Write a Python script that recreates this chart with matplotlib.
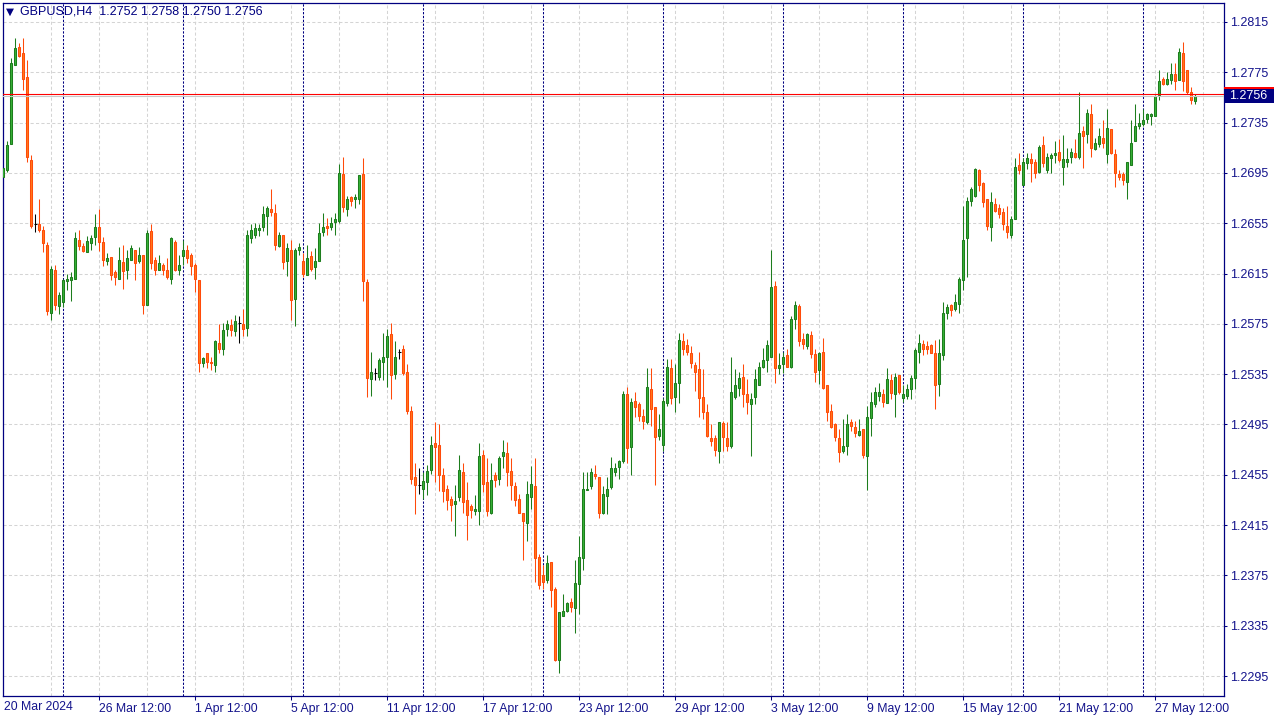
import numpy as np
import matplotlib
matplotlib.use("Agg")
import matplotlib.pyplot as plt
from matplotlib.patches import Rectangle

# GBPUSD H4, bar 0 = 20 Mar 2024 12:00
opens = [
    1.2692, 1.2697, 1.2718, 1.2781, 1.2795, 1.2790, 1.2771, 1.2705, 1.2654, 1.2654,
    1.2650, 1.2638, 1.2584, 1.2618, 1.2589, 1.2592, 1.2609, 1.2610, 1.2611, 1.2642,
    1.2637, 1.2632, 1.2639, 1.2644, 1.2652, 1.2640, 1.2625, 1.2628, 1.2616, 1.2611,
    1.2624, 1.2618, 1.2626, 1.2634, 1.2625, 1.2630, 1.2590, 1.2649, 1.2626, 1.2618,
    1.2622, 1.2618, 1.2611, 1.2640, 1.2618, 1.2629, 1.2634, 1.2630, 1.2622, 1.2610,
    1.2544, 1.2552, 1.2545, 1.2542, 1.2560, 1.2555, 1.2571, 1.2574, 1.2569, 1.2576,
    1.2575, 1.2572, 1.2643, 1.2646, 1.2650, 1.2652, 1.2661, 1.2666, 1.2663, 1.2637,
    1.2646, 1.2625, 1.2634, 1.2595, 1.2634, 1.2625, 1.2614, 1.2629, 1.2620, 1.2625,
    1.2648, 1.2653, 1.2652, 1.2656, 1.2657, 1.2694, 1.2666, 1.2676, 1.2674, 1.2674,
    1.2694, 1.2608, 1.2531, 1.2536, 1.2533, 1.2545, 1.2549, 1.2567, 1.2535, 1.2553,
    1.2555, 1.2537, 1.2506, 1.2453, 1.2447, 1.2444, 1.2449, 1.2459, 1.2480, 1.2479,
    1.2455, 1.2444, 1.2436, 1.2432, 1.2437, 1.2457, 1.2435, 1.2430, 1.2426, 1.2426,
    1.2471, 1.2449, 1.2425, 1.2455, 1.2452, 1.2470, 1.2472, 1.2458, 1.2446, 1.2436,
    1.2425, 1.2417, 1.2437, 1.2446, 1.2390, 1.2375, 1.2371, 1.2386, 1.2364, 1.2308,
    1.2343, 1.2347, 1.2354, 1.2349, 1.2368, 1.2389, 1.2443, 1.2446, 1.2456, 1.2453,
    1.2425, 1.2438, 1.2445, 1.2457, 1.2461, 1.2466, 1.2519, 1.2477, 1.2514, 1.2511,
    1.2502, 1.2497, 1.2523, 1.2509, 1.2486, 1.2479, 1.2512, 1.2540, 1.2517, 1.2528,
    1.2561, 1.2558, 1.2552, 1.2542, 1.2539, 1.2517, 1.2505, 1.2484, 1.2484, 1.2474,
    1.2496, 1.2484, 1.2478, 1.2517, 1.2524, 1.2533, 1.2519, 1.2511, 1.2517, 1.2526,
    1.2541, 1.2546, 1.2549, 1.2605, 1.2540, 1.2543, 1.2550, 1.2541, 1.2579, 1.2589,
    1.2563, 1.2557, 1.2566, 1.2551, 1.2538, 1.2553, 1.2526, 1.2506, 1.2495, 1.2484,
    1.2474, 1.2478, 1.2497, 1.2493, 1.2487, 1.2491, 1.2470, 1.2500, 1.2511, 1.2518,
    1.2519, 1.2512, 1.2530, 1.2519, 1.2534, 1.2516, 1.2518, 1.2523, 1.2532, 1.2553,
    1.2559, 1.2557, 1.2558, 1.2552, 1.2527, 1.2550, 1.2584, 1.2590, 1.2587, 1.2591,
    1.2610, 1.2643, 1.2673, 1.2677, 1.2697, 1.2687, 1.2674, 1.2652, 1.2670, 1.2667,
    1.2664, 1.2653, 1.2646, 1.2658, 1.2701, 1.2685, 1.2703, 1.2706, 1.2704, 1.2696,
    1.2717, 1.2697, 1.2707, 1.2709, 1.2712, 1.2700, 1.2704, 1.2708, 1.2711, 1.2708,
    1.2728, 1.2726, 1.2742, 1.2714, 1.2718, 1.2723, 1.2710, 1.2730, 1.2710, 1.2694,
    1.2694, 1.2688, 1.2701, 1.2720, 1.2732, 1.2734, 1.2738, 1.2740, 1.2740, 1.2757,
    1.2770, 1.2766, 1.2769, 1.2774, 1.2769, 1.2790, 1.2777, 1.2759, 1.2752,
]
highs = [
    1.2700, 1.2720, 1.2786, 1.2802, 1.2798, 1.2802, 1.2785, 1.2709, 1.2662, 1.2674,
    1.2653, 1.2640, 1.2621, 1.2622, 1.2600, 1.2611, 1.2615, 1.2616, 1.2648, 1.2650,
    1.2639, 1.2645, 1.2646, 1.2662, 1.2666, 1.2644, 1.2631, 1.2628, 1.2618, 1.2636,
    1.2638, 1.2634, 1.2638, 1.2634, 1.2636, 1.2630, 1.2650, 1.2654, 1.2628, 1.2630,
    1.2623, 1.2627, 1.2644, 1.2642, 1.2630, 1.2642, 1.2638, 1.2631, 1.2623, 1.2610,
    1.2549, 1.2552, 1.2549, 1.2562, 1.2575, 1.2576, 1.2578, 1.2579, 1.2582, 1.2581,
    1.2587, 1.2650, 1.2654, 1.2655, 1.2654, 1.2669, 1.2669, 1.2682, 1.2670, 1.2648,
    1.2646, 1.2639, 1.2642, 1.2635, 1.2639, 1.2631, 1.2638, 1.2633, 1.2635, 1.2655,
    1.2663, 1.2659, 1.2660, 1.2663, 1.2702, 1.2708, 1.2677, 1.2677, 1.2678, 1.2693,
    1.2707, 1.2611, 1.2553, 1.2540, 1.2548, 1.2568, 1.2571, 1.2576, 1.2561, 1.2555,
    1.2558, 1.2543, 1.2510, 1.2464, 1.2460, 1.2457, 1.2463, 1.2486, 1.2497, 1.2495,
    1.2460, 1.2447, 1.2438, 1.2447, 1.2471, 1.2464, 1.2449, 1.2432, 1.2439, 1.2480,
    1.2475, 1.2468, 1.2464, 1.2457, 1.2470, 1.2483, 1.2481, 1.2468, 1.2449, 1.2440,
    1.2425, 1.2450, 1.2462, 1.2468, 1.2392, 1.2383, 1.2391, 1.2386, 1.2366, 1.2346,
    1.2360, 1.2354, 1.2357, 1.2387, 1.2406, 1.2457, 1.2457, 1.2460, 1.2463, 1.2453,
    1.2446, 1.2453, 1.2469, 1.2464, 1.2467, 1.2522, 1.2525, 1.2516, 1.2521, 1.2513,
    1.2507, 1.2540, 1.2540, 1.2509, 1.2503, 1.2516, 1.2547, 1.2547, 1.2543, 1.2568,
    1.2568, 1.2563, 1.2557, 1.2545, 1.2553, 1.2539, 1.2511, 1.2495, 1.2487, 1.2497,
    1.2498, 1.2497, 1.2549, 1.2539, 1.2537, 1.2543, 1.2531, 1.2520, 1.2539, 1.2545,
    1.2556, 1.2562, 1.2634, 1.2609, 1.2552, 1.2553, 1.2555, 1.2581, 1.2593, 1.2591,
    1.2568, 1.2568, 1.2569, 1.2555, 1.2553, 1.2564, 1.2526, 1.2511, 1.2496, 1.2491,
    1.2499, 1.2503, 1.2499, 1.2498, 1.2499, 1.2491, 1.2510, 1.2521, 1.2525, 1.2528,
    1.2523, 1.2540, 1.2535, 1.2536, 1.2534, 1.2526, 1.2527, 1.2534, 1.2556, 1.2567,
    1.2562, 1.2561, 1.2559, 1.2562, 1.2563, 1.2592, 1.2591, 1.2591, 1.2599, 1.2612,
    1.2669, 1.2676, 1.2684, 1.2699, 1.2698, 1.2688, 1.2674, 1.2680, 1.2675, 1.2670,
    1.2667, 1.2669, 1.2661, 1.2707, 1.2711, 1.2707, 1.2711, 1.2711, 1.2706, 1.2717,
    1.2724, 1.2711, 1.2711, 1.2720, 1.2722, 1.2725, 1.2715, 1.2715, 1.2722, 1.2759,
    1.2732, 1.2746, 1.2750, 1.2723, 1.2731, 1.2737, 1.2746, 1.2730, 1.2714, 1.2697,
    1.2696, 1.2704, 1.2737, 1.2750, 1.2743, 1.2746, 1.2743, 1.2743, 1.2757, 1.2777,
    1.2771, 1.2775, 1.2782, 1.2782, 1.2794, 1.2799, 1.2777, 1.2763, 1.2758,
]
lows = [
    1.2683, 1.2696, 1.2718, 1.2781, 1.2787, 1.2761, 1.2704, 1.2651, 1.2648, 1.2648,
    1.2632, 1.2582, 1.2578, 1.2586, 1.2583, 1.2588, 1.2602, 1.2593, 1.2611, 1.2634,
    1.2632, 1.2632, 1.2634, 1.2638, 1.2633, 1.2621, 1.2622, 1.2610, 1.2606, 1.2611,
    1.2603, 1.2611, 1.2626, 1.2610, 1.2623, 1.2583, 1.2590, 1.2619, 1.2614, 1.2618,
    1.2614, 1.2611, 1.2607, 1.2617, 1.2614, 1.2622, 1.2623, 1.2614, 1.2600, 1.2537,
    1.2541, 1.2540, 1.2538, 1.2537, 1.2552, 1.2550, 1.2565, 1.2565, 1.2565, 1.2560,
    1.2565, 1.2565, 1.2639, 1.2643, 1.2645, 1.2649, 1.2646, 1.2661, 1.2634, 1.2636,
    1.2619, 1.2613, 1.2578, 1.2573, 1.2630, 1.2612, 1.2614, 1.2617, 1.2611, 1.2625,
    1.2645, 1.2646, 1.2650, 1.2646, 1.2655, 1.2664, 1.2661, 1.2669, 1.2667, 1.2670,
    1.2593, 1.2517, 1.2518, 1.2530, 1.2530, 1.2530, 1.2525, 1.2515, 1.2531, 1.2547,
    1.2534, 1.2503, 1.2448, 1.2424, 1.2440, 1.2436, 1.2439, 1.2456, 1.2449, 1.2442,
    1.2433, 1.2427, 1.2418, 1.2406, 1.2434, 1.2425, 1.2403, 1.2421, 1.2423, 1.2415,
    1.2441, 1.2422, 1.2424, 1.2445, 1.2447, 1.2460, 1.2446, 1.2435, 1.2430, 1.2425,
    1.2387, 1.2402, 1.2428, 1.2370, 1.2364, 1.2364, 1.2369, 1.2350, 1.2307, 1.2297,
    1.2343, 1.2346, 1.2346, 1.2329, 1.2344, 1.2379, 1.2443, 1.2444, 1.2452, 1.2421,
    1.2424, 1.2424, 1.2444, 1.2454, 1.2452, 1.2464, 1.2464, 1.2455, 1.2501, 1.2498,
    1.2491, 1.2495, 1.2494, 1.2447, 1.2483, 1.2474, 1.2510, 1.2511, 1.2505, 1.2512,
    1.2550, 1.2550, 1.2540, 1.2522, 1.2501, 1.2499, 1.2485, 1.2478, 1.2470, 1.2464,
    1.2474, 1.2474, 1.2476, 1.2515, 1.2518, 1.2509, 1.2503, 1.2470, 1.2511, 1.2526,
    1.2540, 1.2537, 1.2549, 1.2528, 1.2535, 1.2536, 1.2541, 1.2540, 1.2571, 1.2557,
    1.2555, 1.2555, 1.2548, 1.2529, 1.2527, 1.2523, 1.2498, 1.2492, 1.2482, 1.2465,
    1.2472, 1.2471, 1.2490, 1.2485, 1.2486, 1.2468, 1.2443, 1.2486, 1.2509, 1.2514,
    1.2509, 1.2512, 1.2515, 1.2501, 1.2519, 1.2513, 1.2515, 1.2515, 1.2523, 1.2544,
    1.2550, 1.2551, 1.2552, 1.2507, 1.2518, 1.2546, 1.2579, 1.2581, 1.2585, 1.2584,
    1.2602, 1.2612, 1.2669, 1.2676, 1.2681, 1.2668, 1.2650, 1.2641, 1.2664, 1.2659,
    1.2650, 1.2643, 1.2643, 1.2658, 1.2694, 1.2685, 1.2698, 1.2688, 1.2691, 1.2695,
    1.2700, 1.2695, 1.2695, 1.2703, 1.2704, 1.2685, 1.2700, 1.2703, 1.2707, 1.2706,
    1.2699, 1.2719, 1.2708, 1.2713, 1.2716, 1.2715, 1.2703, 1.2710, 1.2684, 1.2689,
    1.2685, 1.2674, 1.2701, 1.2720, 1.2730, 1.2732, 1.2735, 1.2733, 1.2740, 1.2753,
    1.2765, 1.2765, 1.2766, 1.2761, 1.2769, 1.2760, 1.2758, 1.2750, 1.2750,
]
closes = [
    1.2699, 1.2717, 1.2782, 1.2794, 1.2788, 1.2770, 1.2708, 1.2653, 1.2654, 1.2650,
    1.2639, 1.2585, 1.2619, 1.2590, 1.2598, 1.2610, 1.2611, 1.2612, 1.2643, 1.2637,
    1.2633, 1.2641, 1.2643, 1.2652, 1.2640, 1.2626, 1.2627, 1.2614, 1.2612, 1.2626,
    1.2617, 1.2627, 1.2635, 1.2623, 1.2630, 1.2590, 1.2647, 1.2623, 1.2618, 1.2623,
    1.2618, 1.2612, 1.2643, 1.2618, 1.2622, 1.2634, 1.2627, 1.2621, 1.2611, 1.2544,
    1.2548, 1.2545, 1.2544, 1.2561, 1.2555, 1.2570, 1.2575, 1.2570, 1.2577, 1.2576,
    1.2571, 1.2646, 1.2650, 1.2651, 1.2651, 1.2662, 1.2667, 1.2664, 1.2638, 1.2646,
    1.2624, 1.2635, 1.2594, 1.2634, 1.2636, 1.2615, 1.2627, 1.2619, 1.2625, 1.2647,
    1.2652, 1.2651, 1.2655, 1.2658, 1.2695, 1.2668, 1.2674, 1.2673, 1.2676, 1.2693,
    1.2609, 1.2532, 1.2537, 1.2536, 1.2546, 1.2549, 1.2565, 1.2534, 1.2549, 1.2553,
    1.2536, 1.2506, 1.2452, 1.2447, 1.2447, 1.2450, 1.2458, 1.2479, 1.2477, 1.2455,
    1.2442, 1.2435, 1.2431, 1.2434, 1.2459, 1.2433, 1.2423, 1.2427, 1.2428, 1.2470,
    1.2448, 1.2426, 1.2451, 1.2451, 1.2468, 1.2473, 1.2457, 1.2447, 1.2435, 1.2425,
    1.2418, 1.2440, 1.2448, 1.2389, 1.2367, 1.2370, 1.2385, 1.2363, 1.2308, 1.2346,
    1.2347, 1.2353, 1.2350, 1.2369, 1.2390, 1.2444, 1.2444, 1.2457, 1.2454, 1.2425,
    1.2440, 1.2444, 1.2460, 1.2460, 1.2466, 1.2519, 1.2476, 1.2513, 1.2509, 1.2502,
    1.2498, 1.2525, 1.2507, 1.2485, 1.2491, 1.2514, 1.2541, 1.2516, 1.2528, 1.2562,
    1.2555, 1.2553, 1.2544, 1.2537, 1.2516, 1.2505, 1.2486, 1.2482, 1.2475, 1.2497,
    1.2485, 1.2478, 1.2521, 1.2526, 1.2532, 1.2519, 1.2513, 1.2515, 1.2531, 1.2541,
    1.2546, 1.2558, 1.2604, 1.2540, 1.2542, 1.2549, 1.2541, 1.2579, 1.2590, 1.2561,
    1.2559, 1.2567, 1.2551, 1.2537, 1.2552, 1.2524, 1.2505, 1.2493, 1.2485, 1.2473,
    1.2478, 1.2495, 1.2494, 1.2488, 1.2490, 1.2471, 1.2501, 1.2513, 1.2521, 1.2521,
    1.2513, 1.2531, 1.2520, 1.2533, 1.2521, 1.2519, 1.2523, 1.2532, 1.2554, 1.2560,
    1.2555, 1.2555, 1.2552, 1.2526, 1.2552, 1.2584, 1.2588, 1.2586, 1.2592, 1.2611,
    1.2642, 1.2673, 1.2682, 1.2698, 1.2685, 1.2672, 1.2653, 1.2672, 1.2665, 1.2662,
    1.2654, 1.2648, 1.2658, 1.2700, 1.2697, 1.2704, 1.2707, 1.2703, 1.2695, 1.2716,
    1.2703, 1.2708, 1.2709, 1.2711, 1.2705, 1.2706, 1.2706, 1.2712, 1.2708, 1.2727,
    1.2724, 1.2743, 1.2715, 1.2719, 1.2724, 1.2719, 1.2731, 1.2711, 1.2695, 1.2692,
    1.2689, 1.2704, 1.2719, 1.2732, 1.2735, 1.2737, 1.2742, 1.2742, 1.2756, 1.2768,
    1.2766, 1.2770, 1.2774, 1.2768, 1.2791, 1.2768, 1.2759, 1.2753, 1.2756,
]

date_labels = ["26 Mar 12:00", "1 Apr 12:00", "5 Apr 12:00", "11 Apr 12:00",
               "17 Apr 12:00", "23 Apr 12:00", "29 Apr 12:00", "3 May 12:00",
               "9 May 12:00", "15 May 12:00", "21 May 12:00", "27 May 12:00"]
date_label_bars = [24, 48, 72, 96, 120, 144, 168, 192, 216, 240, 264, 288]
week_start_bars = [15, 45, 75, 105, 135, 165, 195, 225, 255, 285]
price_ticks = [1.2295, 1.2335, 1.2375, 1.2415, 1.2455, 1.2495, 1.2535,
               1.2575, 1.2615, 1.2655, 1.2695, 1.2735, 1.2775, 1.2815]
bid, ask = 1.2756, 1.2758

NAVY = "#000080"
TEXT = "#14148c"
BULL_FILL, BULL_EDGE = "#36b236", "#1d7d1d"
BEAR_FILL, BEAR_EDGE = "#ff7a1a", "#ff4a0a"
GRID = "#d4d4d4"

plt.rcParams['font.family'] = ['Liberation Sans', 'DejaVu Sans']

W, H = 1280, 720
fig = plt.figure(figsize=(W / 100, H / 100), dpi=100)
fig.patch.set_facecolor("white")
ax = fig.add_axes([2.5 / W, (H - 696) / H, 1221 / W, (696 - 2.5) / H])
ax.set_xlim(-0.2, 305.05)
ax.set_ylim(1.22791, 1.28305)

o = np.array(opens)
h = np.array(highs)
l = np.array(lows)
c = np.array(closes)
x = np.arange(len(o))

# grid
for p in price_ticks:
    ax.axhline(p, color=GRID, lw=0.75, dashes=(3, 2.2), zorder=0)
for k in range(12, 306, 12):
    ax.axvline(k, color=GRID, lw=0.75, dashes=(3, 2.2), zorder=0)
for k in week_start_bars:
    ax.axvline(k, color=NAVY, lw=0.75, dashes=(2.2, 1.5), zorder=1)

up = c > o
down = c < o
doji = c == o

ax.vlines(x[up], l[up], h[up], color=BULL_EDGE, lw=0.75, zorder=2)
ax.vlines(x[down], l[down], h[down], color=BEAR_EDGE, lw=0.75, zorder=2)
ax.vlines(x[doji], l[doji], h[doji], color="black", lw=0.75, zorder=2)
ax.hlines(c[doji], x[doji] - 0.4, x[doji] + 0.4, color="black", lw=0.75, zorder=3)

ax.bar(x[up], c[up] - o[up], bottom=o[up], width=0.5,
       color=BULL_FILL, edgecolor=BULL_EDGE, linewidth=0.75, zorder=3)
ax.bar(x[down], o[down] - c[down], bottom=c[down], width=0.5,
       color=BEAR_FILL, edgecolor=BEAR_EDGE, linewidth=0.75, zorder=3)

# ask / bid lines
ax.axhline(ask, color="#ff0000", lw=0.8, zorder=4)
ax.axhline(bid, color="#c8c8c8", lw=0.8, zorder=4)

for s in ax.spines.values():
    s.set_color(NAVY)
    s.set_linewidth(0.9)

ax.yaxis.tick_right()
ax.set_yticks(price_ticks)
ax.set_yticklabels([f"{p:.4f}" for p in price_ticks])
ax.tick_params(axis="y", colors=NAVY, labelcolor=TEXT, labelsize=9,
               length=2, width=0.75, pad=3)

ax.set_xticks(date_label_bars)
ax.set_xticklabels(date_labels)
ax.tick_params(axis="x", colors=NAVY, labelcolor=TEXT, labelsize=8.8,
               length=3, width=0.75, pad=2)
for lbl in ax.get_xticklabels():
    lbl.set_ha("left")

fig.text(4 / W, 1 - 707 / H, "20 Mar 2024", fontsize=8.8, color=TEXT,
         ha="left", va="center")

# header
fig.text(6 / W, 1 - 12 / H, "\u25bc", fontsize=7.5, color=NAVY,
         family=["DejaVu Sans"], ha="left", va="center")
fig.text(20 / W, 1 - 12 / H, "GBPUSD,H4  1.2752 1.2758 1.2750 1.2756",
         fontsize=9, color=NAVY, ha="left", va="center")

# price tags on the right axis
def tag(price, face, text=None):
    y_px = 22 + (1.2815 - price) * 12577
    top = 1 - (y_px - 7) / H
    fig.patches.append(Rectangle((1224 / W, top - 14 / H), 50 / W, 14 / H,
                                 transform=fig.transFigure, facecolor=face,
                                 edgecolor="none", zorder=5))
    if text:
        fig.text(1229 / W, 1 - y_px / H, text, fontsize=9, color="white",
                 ha="left", va="center", zorder=6)

tag(ask, "#ff0000")
tag(bid, NAVY, f"{bid:.4f}")

fig.savefig("out.png", dpi=100, facecolor="white")
